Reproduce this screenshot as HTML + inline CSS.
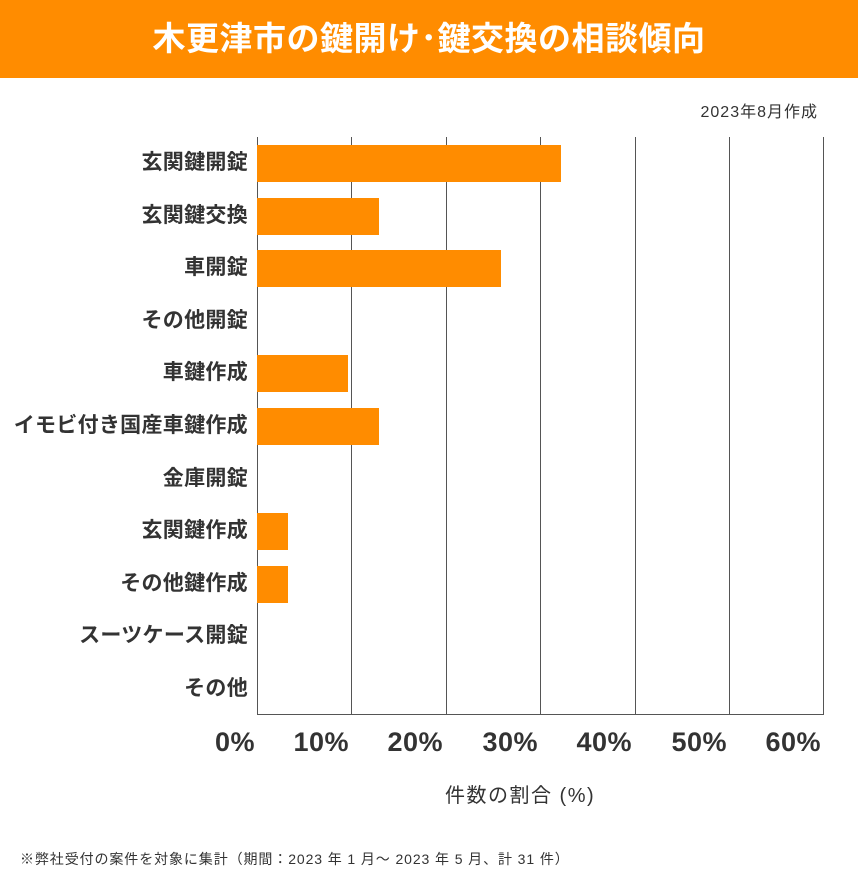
<!DOCTYPE html>
<html><head><meta charset="utf-8"><style>
body{margin:0;width:858px;height:872px;background:#fff;font-family:"Liberation Sans","Noto Sans CJK JP",sans-serif;color:#333;position:relative;overflow:hidden}
.hdr{position:absolute;left:0;top:0;width:858px;height:78px;background:#ff8c00;color:#fff;font-size:33px;font-weight:bold;text-align:center;line-height:78px;letter-spacing:0.5px}
.abs{position:absolute;white-space:nowrap}
.lbl{position:absolute;right:610px;font-size:21px;font-weight:bold;line-height:24px;letter-spacing:0.3px}
.bar{position:absolute;left:257px;height:37px;background:#ff8c00}
.grid{position:absolute;top:137px;width:1px;height:578px;background:#555}
.tick{position:absolute;top:725px;font-size:27px;font-weight:bold;text-align:right;width:80px;line-height:34px;letter-spacing:0.5px}
</style></head><body>
<div class="hdr">木更津市の鍵開け･鍵交換の相談傾向</div>
<div class="abs" style="right:40px;top:98px;font-size:16px;letter-spacing:1px">2023年8月作成</div>
<div class="grid" style="left:257px"></div>
<div class="grid" style="left:351px"></div>
<div class="grid" style="left:446px"></div>
<div class="grid" style="left:540px"></div>
<div class="grid" style="left:635px"></div>
<div class="grid" style="left:729px"></div>
<div class="grid" style="left:823px"></div>
<div class="abs" style="left:257px;top:714px;width:567px;height:1px;background:#555"></div>
<div class="bar" style="top:145px;width:304px"></div>
<div class="bar" style="top:198px;width:122px"></div>
<div class="bar" style="top:250px;width:244px"></div>
<div class="bar" style="top:355px;width:91px"></div>
<div class="bar" style="top:408px;width:122px"></div>
<div class="bar" style="top:513px;width:31px"></div>
<div class="bar" style="top:566px;width:31px"></div>
<div class="lbl" style="top:151px">玄関鍵開錠</div>
<div class="lbl" style="top:204px">玄関鍵交換</div>
<div class="lbl" style="top:256px">車開錠</div>
<div class="lbl" style="top:309px">その他開錠</div>
<div class="lbl" style="top:361px">車鍵作成</div>
<div class="lbl" style="top:414px">イモビ付き国産車鍵作成</div>
<div class="lbl" style="top:467px">金庫開錠</div>
<div class="lbl" style="top:519px">玄関鍵作成</div>
<div class="lbl" style="top:572px">その他鍵作成</div>
<div class="lbl" style="top:624px">スーツケース開錠</div>
<div class="lbl" style="top:677px">その他</div>
<div class="tick" style="left:175px">0%</div>
<div class="tick" style="left:269px">10%</div>
<div class="tick" style="left:363px">20%</div>
<div class="tick" style="left:458px">30%</div>
<div class="tick" style="left:552px">40%</div>
<div class="tick" style="left:647px">50%</div>
<div class="tick" style="left:741px">60%</div>
<div class="abs" style="left:445px;top:779px;font-size:20px;letter-spacing:1.5px">件数の割合 (%)</div>
<div class="abs" style="left:20px;top:849px;font-size:14px;letter-spacing:0.9px">※弊社受付の案件を対象に集計（期間：2023 年 1 月～ 2023 年 5 月、計 31 件）</div>
</body></html>
